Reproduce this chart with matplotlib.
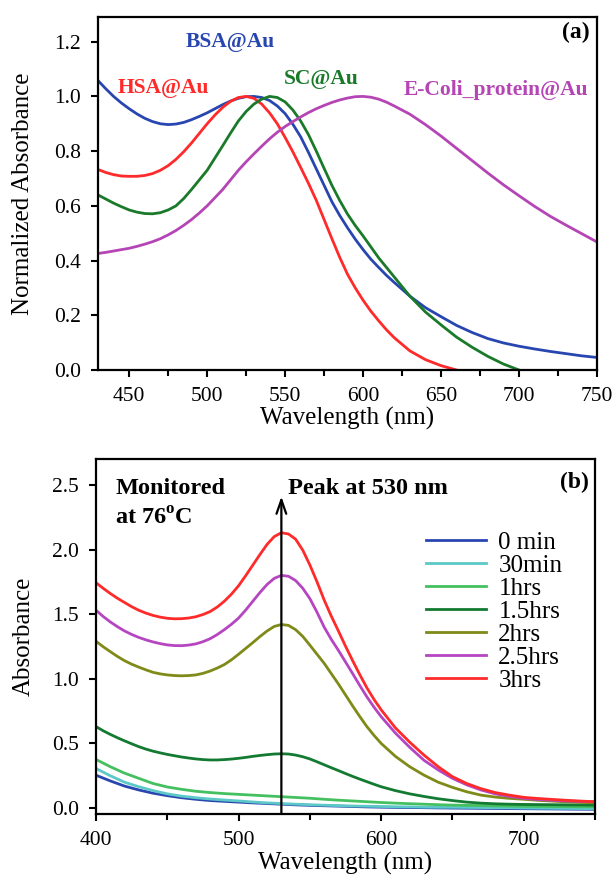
import numpy as np
import matplotlib
matplotlib.use("Agg")
import matplotlib.pyplot as plt
from matplotlib.ticker import MultipleLocator, FormatStrFormatter

plt.rcParams['font.family'] = ['Liberation Serif', 'DejaVu Serif']
plt.rcParams['mathtext.fontset'] = 'custom'
plt.rcParams['mathtext.rm'] = 'Liberation Serif'
plt.rcParams['mathtext.bf'] = 'Liberation Serif:bold'

# ---- panel (a) data: normalized absorbance ----
wl_a = np.r_[430:620:5, 620:751:10]
bsa = [1.058, 1.028, 1.0, 0.976, 0.955, 0.936, 0.92, 0.908, 0.90, 0.897,
       0.899, 0.905, 0.915, 0.927, 0.94, 0.955, 0.97, 0.983, 0.993, 0.999,
       1.0, 0.996, 0.985, 0.965, 0.937, 0.898, 0.852, 0.795, 0.735, 0.675,
       0.615, 0.565, 0.52, 0.478, 0.44, 0.405, 0.375, 0.346,
       0.32, 0.27, 0.228, 0.195, 0.163, 0.137, 0.115, 0.099, 0.087, 0.077,
       0.068, 0.06, 0.052, 0.046]
ecoli = [0.426, 0.43, 0.435, 0.44, 0.445, 0.452, 0.46, 0.469, 0.48, 0.494,
         0.51, 0.529, 0.55, 0.574, 0.60, 0.63, 0.66, 0.695, 0.73, 0.761,
         0.79, 0.818, 0.845, 0.869, 0.89, 0.908, 0.925, 0.941, 0.955, 0.967,
         0.978, 0.987, 0.994, 0.999, 1.0, 0.997, 0.99, 0.979,
         0.965, 0.935, 0.897, 0.855, 0.81, 0.765, 0.72, 0.677, 0.637, 0.598,
         0.562, 0.53, 0.499, 0.468]
wl_hsa = np.r_[430:620:5, 620:661:10]
hsa = [0.733, 0.722, 0.714, 0.709, 0.708, 0.708, 0.711, 0.718, 0.73, 0.747,
       0.77, 0.798, 0.83, 0.865, 0.90, 0.932, 0.96, 0.982, 0.996, 1.0,
       0.993, 0.972, 0.94, 0.90, 0.85, 0.797, 0.74, 0.682, 0.62, 0.55,
       0.48, 0.412, 0.35, 0.30, 0.255, 0.215, 0.18, 0.147,
       0.118, 0.07, 0.038, 0.016, 0.0]
wl_sc = np.r_[430:620:5, 620:701:10]
sc = [0.64, 0.625, 0.61, 0.597, 0.585, 0.577, 0.572, 0.571, 0.575, 0.585,
      0.60, 0.627, 0.66, 0.695, 0.73, 0.775, 0.82, 0.866, 0.91, 0.945,
      0.972, 0.99, 1.0, 0.996, 0.98, 0.95, 0.91, 0.86, 0.80, 0.737,
      0.675, 0.62, 0.57, 0.528, 0.49, 0.45, 0.41, 0.375,
      0.34, 0.27, 0.212, 0.165, 0.12, 0.083, 0.05, 0.022, 0.0]

# ---- panel (b) data: absorbance vs heating time ----
wl_b10 = np.arange(400, 751, 10)
t0 = [0.254, 0.21, 0.17, 0.14, 0.115, 0.096, 0.08, 0.068, 0.058, 0.052, 0.046,
      0.04, 0.035, 0.03, 0.025, 0.021, 0.018, 0.015, 0.012, 0.009, 0.007, 0.005,
      0.004, 0.003, 0.001, 0.0, -0.001, -0.002, -0.003, -0.004, -0.005, -0.006,
      -0.007, -0.008, -0.009, -0.01]
t30 = [0.306, 0.25, 0.2, 0.165, 0.135, 0.11, 0.092, 0.08, 0.07, 0.062, 0.055,
       0.047, 0.04, 0.035, 0.03, 0.026, 0.022, 0.019, 0.016, 0.014, 0.012, 0.01,
       0.009, 0.007, 0.006, 0.006, 0.005, 0.004, 0.003, 0.002, 0.0, -0.001,
       -0.002, -0.003, -0.004, -0.005]
t1 = [0.376, 0.32, 0.27, 0.23, 0.19, 0.163, 0.145, 0.13, 0.12, 0.112, 0.106,
      0.1, 0.094, 0.088, 0.082, 0.076, 0.068, 0.061, 0.055, 0.049, 0.043, 0.038,
      0.034, 0.03, 0.026, 0.023, 0.021, 0.019, 0.017, 0.015, 0.014, 0.013,
      0.012, 0.011, 0.01, 0.01]
wl_b5 = np.r_[400:600:5, 600:751:10]
t15 = [0.63, 0.598, 0.57, 0.544, 0.52, 0.497, 0.475, 0.456, 0.44, 0.427,
       0.415, 0.405, 0.395, 0.387, 0.38, 0.375, 0.372, 0.372, 0.375, 0.379,
       0.385, 0.392, 0.40, 0.407, 0.413, 0.418, 0.42, 0.418, 0.41, 0.397,
       0.38, 0.358, 0.335, 0.312, 0.29, 0.267, 0.245, 0.224, 0.204, 0.184,
       0.165, 0.135, 0.11, 0.09, 0.072, 0.058, 0.046, 0.038, 0.033, 0.03,
       0.028, 0.027, 0.026, 0.025, 0.024, 0.023]
t2 = [1.29, 1.248, 1.21, 1.173, 1.14, 1.113, 1.09, 1.069, 1.05, 1.038,
      1.03, 1.025, 1.023, 1.025, 1.03, 1.042, 1.06, 1.083, 1.11, 1.147,
      1.19, 1.235, 1.28, 1.327, 1.37, 1.405, 1.42, 1.413, 1.38, 1.328,
      1.26, 1.19, 1.12, 1.04, 0.96, 0.875, 0.79, 0.708, 0.63, 0.562,
      0.5, 0.4, 0.32, 0.255, 0.2, 0.16, 0.126, 0.1, 0.085, 0.075,
      0.068, 0.06, 0.054, 0.048, 0.044, 0.041]
t25 = [1.53, 1.482, 1.44, 1.403, 1.37, 1.343, 1.32, 1.301, 1.285, 1.272,
       1.262, 1.257, 1.256, 1.261, 1.27, 1.287, 1.31, 1.342, 1.38, 1.422,
       1.47, 1.532, 1.60, 1.668, 1.73, 1.777, 1.80, 1.793, 1.76, 1.70,
       1.62, 1.515, 1.40, 1.305, 1.22, 1.13, 1.04, 0.948, 0.86, 0.78,
       0.707, 0.58, 0.47, 0.37, 0.295, 0.23, 0.18, 0.14, 0.11, 0.09,
       0.075, 0.066, 0.06, 0.055, 0.051, 0.049]
t3 = [1.743, 1.70, 1.66, 1.623, 1.59, 1.558, 1.53, 1.508, 1.49, 1.477,
      1.468, 1.464, 1.465, 1.47, 1.48, 1.497, 1.52, 1.555, 1.60, 1.655,
      1.72, 1.798, 1.88, 1.962, 2.04, 2.10, 2.13, 2.12, 2.08, 1.995,
      1.88, 1.75, 1.61, 1.485, 1.37, 1.252, 1.14, 1.032, 0.93, 0.84,
      0.76, 0.62, 0.51, 0.41, 0.32, 0.243, 0.19, 0.15, 0.12, 0.10,
      0.083, 0.074, 0.067, 0.06, 0.054, 0.049]
time_labels = ['0 min', '30min', '1hrs', '1.5hrs', '2hrs', '2.5hrs', '3hrs']
time_colors = ['#2a45b0', '#5cc8c8', '#45c060', '#137a32', '#7f8a18', '#b545c0', '#ff2a2a']

fig = plt.figure(figsize=(6.14, 8.75), dpi=100)


def style(ax):
    for s in ax.spines.values():
        s.set_linewidth(1.6)
    ax.tick_params(which='both', direction='out', width=1.5, top=False, right=False,
                   labelsize=15.5, pad=7.5)
    ax.tick_params(which='major', length=5)
    ax.tick_params(which='minor', length=4.5)


# panel (a)
ax1 = fig.add_axes([0.1596, 0.5771, 0.8127, 0.4034])
ax1.plot(wl_a, bsa, color='#2846b0', lw=2)
ax1.plot(wl_hsa, hsa, color='#ff2a2a', lw=2)
ax1.plot(wl_sc, sc, color='#1a7a2a', lw=2)
ax1.plot(wl_a, ecoli, color='#b545b5', lw=2)
ax1.set_xlim(430, 750)
ax1.set_ylim(0, 1.29)
ax1.xaxis.set_major_locator(MultipleLocator(50))
ax1.xaxis.set_minor_locator(MultipleLocator(25))
ax1.yaxis.set_major_locator(MultipleLocator(0.2))
ax1.yaxis.set_major_formatter(FormatStrFormatter('%.1f'))
style(ax1)
ax1.set_xlabel('Wavelength (nm)', fontsize=18)
ax1.set_ylabel('Normalized Absorbance', fontsize=18)
ax1.xaxis.set_label_coords(0.5, -0.105)
ax1.yaxis.set_label_coords(-0.128, 0.5)
kw = dict(fontsize=15.5, fontweight='bold', va='center')
ax1.text(486.5, 1.20, 'BSA@Au', color='#2846b0', **kw)
ax1.text(442.5, 1.03, 'HSA@Au', color='#ff2a2a', **kw)
ax1.text(549, 1.064, 'SC@Au', color='#1a7a2a', **kw)
ax1.text(626, 1.025, 'E-Coli_protein@Au', color='#b545b5', **kw)
ax1.text(745, 1.235, '(a)', fontsize=17, fontweight='bold', ha='right', va='center')

# panel (b)
ax2 = fig.add_axes([0.1564, 0.0697, 0.8127, 0.4057])
series = [(wl_b10, t0), (wl_b10, t30), (wl_b10, t1), (wl_b5, t15),
          (wl_b5, t2), (wl_b5, t25), (wl_b5, t3)]
for (x, y), lab, c in zip(series, time_labels, time_colors):
    ax2.plot(x, y, color=c, lw=2, label=lab)
ax2.set_xlim(400, 750)
ax2.set_ylim(-0.046, 2.70)
ax2.xaxis.set_major_locator(MultipleLocator(100))
ax2.xaxis.set_minor_locator(MultipleLocator(50))
ax2.yaxis.set_major_locator(MultipleLocator(0.5))
ax2.yaxis.set_major_formatter(FormatStrFormatter('%.1f'))
style(ax2)
ax2.set_xlabel('Wavelength (nm)', fontsize=18)
ax2.set_ylabel('Absorbance', fontsize=18)
ax2.xaxis.set_label_coords(0.5, -0.106)
ax2.yaxis.set_label_coords(-0.122, 0.5)
ax2.annotate('', xy=(530, 2.41), xytext=(530, -0.046),
             arrowprops=dict(arrowstyle='->,head_length=1.0,head_width=0.35', lw=1.6,
                             color='black', shrinkA=0, shrinkB=0))
ax2.text(534.5, 2.47, 'Peak at 530 nm', fontsize=17.5, fontweight='bold', va='center')
ax2.text(413.5, 2.47, 'Monitored', fontsize=17.5, fontweight='bold', va='center')
ax2.text(413.5, 2.235, r'at 76$^{\mathbf{o}}$C', fontsize=17.5, fontweight='bold', va='center')
ax2.text(746, 2.52, '(b)', fontsize=17, fontweight='bold', ha='right', va='center')
ax2.legend(loc='upper left', bbox_to_anchor=(0.661, 0.797), frameon=False,
           fontsize=18, handlelength=2.4, handletextpad=0.5, labelspacing=0.02,
           borderpad=0, borderaxespad=0)

fig.savefig('out.png', dpi=100)
